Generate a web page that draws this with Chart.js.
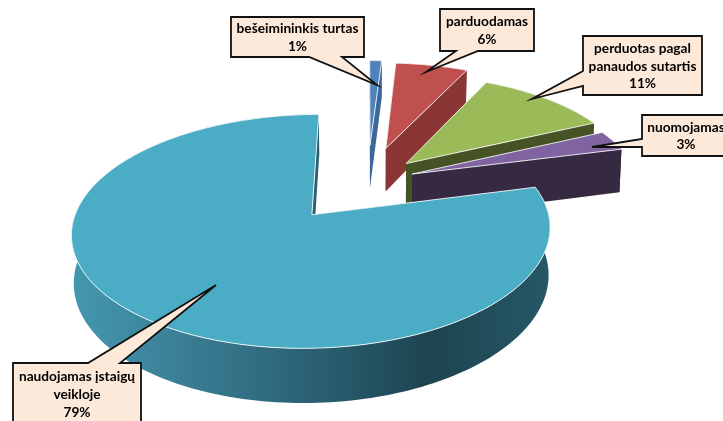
<!DOCTYPE html>
<html>
<head>
<meta charset="utf-8">
<style>
  html, body { margin: 0; padding: 0; background: #fff; overflow: hidden; }
  #wrap { width: 723px; height: 421px; }
</style>
<script src="https://cdn.jsdelivr.net/npm/chart.js@4/dist/chart.umd.min.js"></script>
</head>
<body>
<div id="wrap"><canvas id="pie" width="723" height="421"></canvas></div>
<script>
// ========== DATA ==========
const categories = ['bešeimininkis turtas', 'parduodamas', 'perduotas pagal panaudos sutartis', 'nuomojamas', 'naudojamas įstaigų veikloje'];
const shares = [1, 6, 11, 3, 79];
const labelLines = [['bešeimininkis turtas'], ['parduodamas'], ['perduotas pagal', 'panaudos sutartis'], ['nuomojamas'], ['naudojamas įstaigų', 'veikloje']];

// ========== STYLE ==========
const topColors = ['#4f81bd', '#c0504d', '#9bbb59', '#8064a2', '#4bacc6'];
const wallColors = ['#3c679b', '#8a3635', '#465425', '#352a42', '#2a6072'];
const explode = [82, 77, 56, 48, 87];

// callout boxes: [left, top, right, bottom], tip, and the two points where the pointer leaves the box
const callouts = [
    { box: [231, 17, 364, 57], tip: [377, 85], base: [[342, 57], [309, 57]], side: 'bottom' },
    { box: [440, 9, 534, 51], tip: [426, 72], base: [[478, 51], [456, 51]], side: 'bottom' },
    { box: [583, 36, 702, 95], tip: [532, 99], base: [[583, 86], [583, 71]], side: 'left' },
    { box: [642, 115, 730, 156], tip: [592, 147], base: [[642, 147], [642, 139]], side: 'left' },
    { box: [13, 363, 141, 430], tip: [216, 285], base: [[88, 363], [120, 363]], side: 'top' }
];

// ========== 3D PROJECTION ==========
const view = { cx: 367.5, cy: 181.5, radius: 227, tilt: 0.464, persp: 0.0006, depth: 45, shrink: 0.008 };

function project(X, Y, h) {
    const s = 1 / (1 + view.persp * Y);
    return [view.cx + X * s * (1 - view.shrink * h), view.cy - Y * view.tilt * s + view.depth * s * h];
}

function slicePoints(el, off) {
    // angles come from the pie controller, offset along the middle of the slice
    const mid = (el.startAngle + el.endAngle) / 2;
    const ox = Math.cos(mid) * off, oy = -Math.sin(mid) * off;
    const steps = Math.max(4, Math.ceil((el.endAngle - el.startAngle) * 40));
    const rim = [];
    for (let i = 0; i <= steps; i++) {
        const a = el.startAngle + (el.endAngle - el.startAngle) * i / steps;
        rim.push([ox + Math.cos(a) * view.radius, oy - Math.sin(a) * view.radius]);
    }
    return { apex: [ox, oy], rim };
}

function poly(ctx, pts, fill, stroke) {
    ctx.beginPath();
    pts.forEach((p, i) => i ? ctx.lineTo(p[0], p[1]) : ctx.moveTo(p[0], p[1]));
    ctx.closePath();
    if (fill) { ctx.fillStyle = fill; ctx.fill(); }
    if (stroke) { ctx.strokeStyle = stroke; ctx.lineWidth = 1; ctx.stroke(); }
}

const pie3d = {
    id: 'pie3d',
    // replaces the flat drawing of the dataset
    beforeDatasetDraw(chart, args) {
        const ctx = chart.ctx;
        args.meta.data.forEach((el, i) => {
            const { apex, rim } = slicePoints(el, explode[i]);
            const first = rim[0], last = rim[rim.length - 1];
            let wall = wallColors[i];
            if (i === 4) {
                wall = ctx.createLinearGradient(71, 0, 549, 0);
                wall.addColorStop(0, '#4398b0');
                wall.addColorStop(0.2, '#3c8299');
                wall.addColorStop(0.5, '#2a6173');
                wall.addColorStop(0.75, '#1d4450');
                wall.addColorStop(1, '#265866');
            }
            const flat = i === 4 ? '#2a6072' : wallColors[i];
            poly(ctx, [project(apex[0], apex[1], 0), project(first[0], first[1], 0), project(first[0], first[1], 1), project(apex[0], apex[1], 1)], flat);
            poly(ctx, [project(apex[0], apex[1], 0), project(last[0], last[1], 0), project(last[0], last[1], 1), project(apex[0], apex[1], 1)], flat);
            poly(ctx, rim.map(p => project(p[0], p[1], 0)).concat(rim.slice().reverse().map(p => project(p[0], p[1], 1))), wall);
            poly(ctx, [project(apex[0], apex[1], 0)].concat(rim.map(p => project(p[0], p[1], 0))), topColors[i], 'rgba(255,255,255,0.85)');
        });
        return false;
    },
    afterDraw(chart) {
        const ctx = chart.ctx;
        callouts.forEach((c, i) => {
            const [l, t, r, b] = c.box;
            let pts;
            if (c.side === 'bottom') pts = [[l, t], [r, t], [r, b], c.base[0], c.tip, c.base[1], [l, b]];
            else if (c.side === 'left') pts = [[l, t], [r, t], [r, b], [l, b], c.base[0], c.tip, c.base[1]];
            else pts = [[l, t], c.base[0], c.tip, c.base[1], [r, t], [r, b], [l, b]];
            ctx.lineJoin = 'miter';
            ctx.beginPath();
            pts.forEach((p, j) => j ? ctx.lineTo(p[0], p[1]) : ctx.moveTo(p[0], p[1]));
            ctx.closePath();
            ctx.fillStyle = '#fde9d9';
            ctx.fill();
            ctx.strokeStyle = '#111';
            ctx.lineWidth = 1.8;
            ctx.stroke();

            const lines = labelLines[i].concat([shares[i] + '%']);
            ctx.fillStyle = '#000';
            ctx.font = 'bold 13.7px Lato';
            ctx.textAlign = 'center';
            ctx.textBaseline = 'middle';
            const mid = (l + r) / 2;
            const top = i === 4 ? 377 : t + (b - t) / 2 - (lines.length - 1) * 8.8 + 0.7;
            lines.forEach((txt, j) => ctx.fillText(txt, mid, top + j * 17.6));
        });
    }
};

// ========== CHART INITIALIZATION ==========
new Chart(document.getElementById('pie').getContext('2d'), {
    type: 'pie',
    data: {
        labels: categories,
        datasets: [{ data: shares, backgroundColor: topColors, borderColor: '#fff', borderWidth: 1 }]
    },
    options: {
        responsive: false,
        animation: false,
        plugins: { legend: { display: false }, tooltip: { enabled: false } }
    },
    plugins: [pie3d]
});
</script>
</body>
</html>
